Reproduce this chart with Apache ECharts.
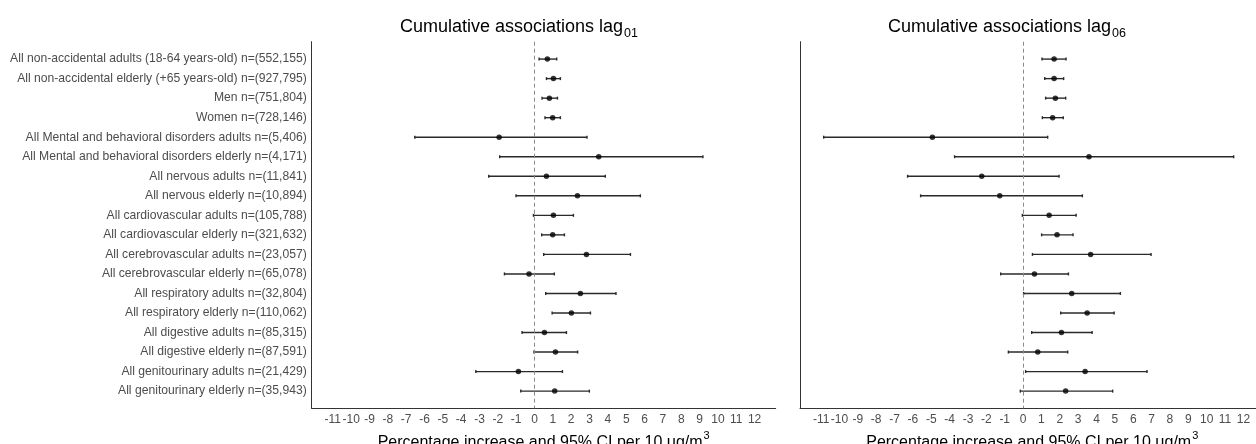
<!DOCTYPE html>
<html>
<head>
<meta charset="utf-8">
<script src="https://cdn.jsdelivr.net/npm/echarts@6/dist/echarts.min.js"></script>
<style>
html,body{margin:0;padding:0;background:#fff;}
#chart{width:1256px;height:444px;}
</style>
</head>
<body>
<div id="chart"></div>
<script>
const categories = [
  "All non-accidental adults (18-64 years-old) n=(552,155)",
  "All non-accidental elderly (+65 years-old) n=(927,795)",
  "Men n=(751,804)",
  "Women n=(728,146)",
  "All Mental and behavioral disorders adults n=(5,406)",
  "All Mental and behavioral disorders elderly n=(4,171)",
  "All nervous adults n=(11,841)",
  "All nervous elderly n=(10,894)",
  "All cardiovascular adults n=(105,788)",
  "All cardiovascular elderly n=(321,632)",
  "All cerebrovascular adults n=(23,057)",
  "All cerebrovascular elderly n=(65,078)",
  "All respiratory adults n=(32,804)",
  "All respiratory elderly n=(110,062)",
  "All digestive adults n=(85,315)",
  "All digestive elderly n=(87,591)",
  "All genitourinary adults n=(21,429)",
  "All genitourinary elderly n=(35,943)"
];
const lag01Est = [0.70, 1.03, 0.81, 0.99, -1.93, 3.50, 0.65, 2.34, 1.03, 0.99, 2.83, -0.30, 2.50, 2.01, 0.54, 1.14, -0.88, 1.10];
const lag01Low = [0.25, 0.65, 0.41, 0.57, -6.53, -1.90, -2.50, -1.01, -0.06, 0.39, 0.50, -1.64, 0.61, 0.96, -0.68, -0.03, -3.20, -0.75];
const lag01High = [1.21, 1.41, 1.25, 1.41, 2.86, 9.18, 3.86, 5.77, 2.12, 1.63, 5.23, 1.08, 4.44, 3.05, 1.74, 2.35, 1.52, 2.99];
const lag06Est = [1.69, 1.69, 1.76, 1.61, -4.94, 3.59, -2.25, -1.27, 1.42, 1.85, 3.68, 0.62, 2.65, 3.49, 2.09, 0.80, 3.38, 2.32];
const lag06Low = [1.03, 1.18, 1.23, 1.05, -10.86, -3.73, -6.29, -5.58, -0.04, 1.01, 0.51, -1.22, 0.03, 2.05, 0.47, -0.80, 0.14, -0.15];
const lag06High = [2.34, 2.21, 2.32, 2.19, 1.34, 11.47, 1.96, 3.23, 2.89, 2.72, 6.97, 2.47, 5.30, 4.96, 3.76, 2.43, 6.75, 4.88];
const xTicks = [-11,-10,-9,-8,-7,-6,-5,-4,-3,-2,-1,0,1,2,3,4,5,6,7,8,9,10,11,12];
const panelTitles = ["01", "06"];
const xAxisTitle = "Percentage increase and 95% CI per 10 μg/m";

const FONT = "Liberation Sans, Arial, Helvetica, sans-serif";
const rowIdx = categories.map((_, i) => i);

function ciData(lo, hi) { return lo.map((v, i) => [v, hi[i], i]); }
function ptData(est) { return est.map((v, i) => [v, i]); }

function renderCI(params, api) {
  const y = api.value(2);
  const p1 = api.coord([api.value(0), y]);
  const p2 = api.coord([api.value(1), y]);
  const h = 1.5;
  const st = { stroke: '#2a2a2a', lineWidth: 1.4 };
  return {
    type: 'group',
    children: [
      { type: 'line', shape: { x1: p1[0], y1: p1[1], x2: p2[0], y2: p2[1] }, style: st },
      { type: 'line', shape: { x1: p1[0], y1: p1[1] - h, x2: p1[0], y2: p1[1] + h }, style: st },
      { type: 'line', shape: { x1: p2[0], y1: p2[1] - h, x2: p2[0], y2: p2[1] + h }, style: st }
    ]
  };
}

function xAxisDef(gi) {
  return {
    type: 'value', gridIndex: gi, min: -12.15, max: 13.15, position: 'bottom',
    axisLine: { show: true, onZero: false, lineStyle: { color: '#333', width: 1 } },
    axisTick: { show: false },
    splitLine: { show: false },
    axisLabel: { customValues: xTicks, color: '#4d4d4d', fontSize: 12, fontFamily: FONT, margin: 5 },
    name: '{n|' + xAxisTitle + '}{s|3}',
    nameLocation: 'middle', nameGap: 15,
    nameTextStyle: {
      rich: {
        n: { fontSize: 16, fontFamily: FONT, color: '#000', verticalAlign: 'bottom', lineHeight: 20 },
        s: { fontSize: 11, fontFamily: FONT, color: '#000', verticalAlign: 'top', lineHeight: 20, padding: [0, 0, 0, 1] }
      }
    }
  };
}

function yAxisDef(gi, showLabels) {
  return {
    type: 'value', gridIndex: gi, inverse: true, min: -0.89, max: 17.88, position: 'left',
    axisLine: { show: true, onZero: false, lineStyle: { color: '#333', width: 1 } },
    axisTick: { show: false },
    splitLine: { show: false },
    axisLabel: {
      show: showLabels, customValues: rowIdx, margin: 5,
      color: '#4d4d4d', fontSize: 12.15, fontFamily: FONT,
      formatter: v => categories[v]
    }
  };
}

function titleDef(left, sub) {
  return {
    text: '{a|Cumulative associations lag}{b|' + sub + '}',
    left: left, top: 9,
    textStyle: {
      fontWeight: 'normal',
      rich: {
        a: { fontSize: 18, fontFamily: FONT, fontWeight: 'normal', color: '#000', verticalAlign: 'bottom', lineHeight: 22 },
        b: { fontSize: 12.5, fontFamily: FONT, fontWeight: 'normal', color: '#000', verticalAlign: 'bottom', lineHeight: 22, padding: [0, 0, -4, 1] }
      }
    }
  };
}

function seriesFor(gi, lo, hi, est) {
  return [
    {
      type: 'custom', xAxisIndex: gi, yAxisIndex: gi,
      renderItem: renderCI, data: ciData(lo, hi),
      encode: { x: [0, 1], y: 2 }, silent: true, z: 3,
      markLine: {
        silent: true, symbol: 'none', label: { show: false },
        lineStyle: { color: '#8a8a8a', type: [4, 3], width: 1 },
        data: [{ xAxis: 0 }]
      }
    },
    {
      type: 'scatter', xAxisIndex: gi, yAxisIndex: gi,
      data: ptData(est), symbol: 'circle', symbolSize: 5.5,
      itemStyle: { color: '#000' }, z: 4, silent: true
    }
  ];
}

const chart = echarts.init(document.getElementById('chart'));
chart.setOption({
  animation: false,
  backgroundColor: '#fff',
  title: [titleDef(395, panelTitles[0]), titleDef(883, panelTitles[1])],
  grid: [
    { left: 311.7, top: 41.7, width: 464, height: 366.6, containLabel: false, outerBoundsMode: 'none' },
    { left: 800, top: 41.7, width: 464.5, height: 366.6, containLabel: false, outerBoundsMode: 'none' }
  ],
  xAxis: [xAxisDef(0), xAxisDef(1)],
  yAxis: [yAxisDef(0, true), yAxisDef(1, false)],
  series: [].concat(
    seriesFor(0, lag01Low, lag01High, lag01Est),
    seriesFor(1, lag06Low, lag06High, lag06Est)
  )
});
</script>
</body>
</html>
